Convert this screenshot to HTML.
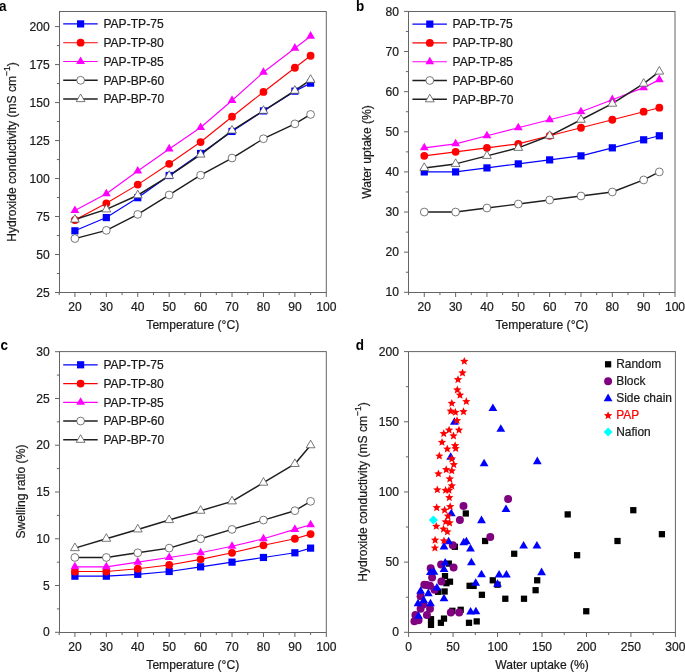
<!DOCTYPE html>
<html><head><meta charset="utf-8"><style>
html,body{margin:0;padding:0;background:#fff;width:685px;height:672px;overflow:hidden;position:relative}
text{font-family:"Liberation Sans", sans-serif;stroke:#1a1a1a;stroke-width:0.22px}
text.red{stroke:#ff0000}
text.lbl{stroke:none}
</style></head><body>
<svg width="685" height="672" viewBox="0 0 685 672" style="position:absolute;left:0;top:0;will-change:transform">
<g font-family='"Liberation Sans", sans-serif' font-size="12.1" fill="#1a1a1a" stroke-width="0">
<text transform="translate(-1 10.6) scale(1 1.1)" font-size="13.5" font-weight="bold" fill="#000" class="lbl">a</text>
<text transform="translate(356.1 10.6) scale(1 1.1)" font-size="13.5" font-weight="bold" fill="#000" class="lbl">b</text>
<text transform="translate(0.4 350.3) scale(1 1.1)" font-size="13.5" font-weight="bold" fill="#000" class="lbl">c</text>
<text transform="translate(355.7 350.3) scale(1 1.1)" font-size="13.5" font-weight="bold" fill="#000" class="lbl">d</text>
<rect x="59.5" y="11.5" width="266.8" height="281" fill="none" stroke="#646464" stroke-width="1.0"/>
<path d="M74.91 292.5v4.5M106.34 292.5v4.5M137.76 292.5v4.5M169.18 292.5v4.5M200.61 292.5v4.5M232.03 292.5v4.5M263.45 292.5v4.5M294.88 292.5v4.5M326.3 292.5v4.5M59.2 292.5v2.6M90.62 292.5v2.6M122.05 292.5v2.6M153.47 292.5v2.6M184.89 292.5v2.6M216.32 292.5v2.6M247.74 292.5v2.6M279.16 292.5v2.6M310.59 292.5v2.6M59.5 292.5h-4.5M59.5 254.51h-4.5M59.5 216.53h-4.5M59.5 178.54h-4.5M59.5 140.55h-4.5M59.5 102.57h-4.5M59.5 64.58h-4.5M59.5 26.59h-4.5M59.5 273.51h-2.6M59.5 235.52h-2.6M59.5 197.53h-2.6M59.5 159.55h-2.6M59.5 121.56h-2.6M59.5 83.57h-2.6M59.5 45.59h-2.6" stroke="#646464" stroke-width="1.0" fill="none"/>
<text transform="translate(74.91 311.2) scale(1.0 1.09)" text-anchor="middle">20</text>
<text transform="translate(106.34 311.2) scale(1.0 1.09)" text-anchor="middle">30</text>
<text transform="translate(137.76 311.2) scale(1.0 1.09)" text-anchor="middle">40</text>
<text transform="translate(169.18 311.2) scale(1.0 1.09)" text-anchor="middle">50</text>
<text transform="translate(200.61 311.2) scale(1.0 1.09)" text-anchor="middle">60</text>
<text transform="translate(232.03 311.2) scale(1.0 1.09)" text-anchor="middle">70</text>
<text transform="translate(263.45 311.2) scale(1.0 1.09)" text-anchor="middle">80</text>
<text transform="translate(294.88 311.2) scale(1.0 1.09)" text-anchor="middle">90</text>
<text transform="translate(326.3 311.2) scale(1.0 1.09)" text-anchor="middle">100</text>
<text transform="translate(49.6 296.6) scale(1.0 1.09)" text-anchor="end">25</text>
<text transform="translate(49.6 258.61) scale(1.0 1.09)" text-anchor="end">50</text>
<text transform="translate(49.6 220.63) scale(1.0 1.09)" text-anchor="end">75</text>
<text transform="translate(49.6 182.64) scale(1.0 1.09)" text-anchor="end">100</text>
<text transform="translate(49.6 144.65) scale(1.0 1.09)" text-anchor="end">125</text>
<text transform="translate(49.6 106.67) scale(1.0 1.09)" text-anchor="end">150</text>
<text transform="translate(49.6 68.68) scale(1.0 1.09)" text-anchor="end">175</text>
<text transform="translate(49.6 30.69) scale(1.0 1.09)" text-anchor="end">200</text>
<polyline points="74.91,230.81 106.34,217.59 137.76,197.69 169.18,175.5 200.61,153.47 232.03,131.44 263.45,110.92 294.88,91.17 310.59,83.12" fill="none" stroke="#0000ff" stroke-width="1.15" stroke-linejoin="round"/>
<polyline points="74.91,220.02 106.34,203.31 137.76,184.62 169.18,163.8 200.61,142.07 232.03,116.7 263.45,91.93 294.88,67.77 310.59,55.77" fill="none" stroke="#ff0000" stroke-width="1.15" stroke-linejoin="round"/>
<polyline points="74.91,210.45 106.34,193.74 137.76,170.94 169.18,148.91 200.61,127.49 232.03,100.44 263.45,72.33 294.88,48.17 310.59,36.17" fill="none" stroke="#ff00ff" stroke-width="1.15" stroke-linejoin="round"/>
<polyline points="74.91,238.56 106.34,230.35 137.76,214.4 169.18,194.95 200.61,175.2 232.03,158.03 263.45,138.73 294.88,123.84 310.59,114.42" fill="none" stroke="#1e1e1e" stroke-width="1.4" stroke-linejoin="round"/>
<polyline points="74.91,219.57 106.34,209.39 137.76,195.25 169.18,175.81 200.61,154.53 232.03,130.53 263.45,110.77 294.88,90.72 310.59,79.78" fill="none" stroke="#1e1e1e" stroke-width="1.5" stroke-linejoin="round"/>
<rect x="71.31" y="227.21" width="7.2" height="7.2" fill="#0000ff"/>
<rect x="102.74" y="213.99" width="7.2" height="7.2" fill="#0000ff"/>
<rect x="134.16" y="194.09" width="7.2" height="7.2" fill="#0000ff"/>
<rect x="165.58" y="171.9" width="7.2" height="7.2" fill="#0000ff"/>
<rect x="197.01" y="149.87" width="7.2" height="7.2" fill="#0000ff"/>
<rect x="228.43" y="127.84" width="7.2" height="7.2" fill="#0000ff"/>
<rect x="259.85" y="107.32" width="7.2" height="7.2" fill="#0000ff"/>
<rect x="291.28" y="87.57" width="7.2" height="7.2" fill="#0000ff"/>
<rect x="306.99" y="79.52" width="7.2" height="7.2" fill="#0000ff"/>
<circle cx="74.91" cy="220.02" r="3.9" fill="#ff0000"/>
<circle cx="106.34" cy="203.31" r="3.9" fill="#ff0000"/>
<circle cx="137.76" cy="184.62" r="3.9" fill="#ff0000"/>
<circle cx="169.18" cy="163.8" r="3.9" fill="#ff0000"/>
<circle cx="200.61" cy="142.07" r="3.9" fill="#ff0000"/>
<circle cx="232.03" cy="116.7" r="3.9" fill="#ff0000"/>
<circle cx="263.45" cy="91.93" r="3.9" fill="#ff0000"/>
<circle cx="294.88" cy="67.77" r="3.9" fill="#ff0000"/>
<circle cx="310.59" cy="55.77" r="3.9" fill="#ff0000"/>
<polygon points="74.91,205.38 79.31,212.98 70.51,212.98" fill="#ff00ff"/>
<polygon points="106.34,188.67 110.74,196.27 101.94,196.27" fill="#ff00ff"/>
<polygon points="137.76,165.88 142.16,173.48 133.36,173.48" fill="#ff00ff"/>
<polygon points="169.18,143.84 173.58,151.44 164.78,151.44" fill="#ff00ff"/>
<polygon points="200.61,122.42 205.01,130.02 196.21,130.02" fill="#ff00ff"/>
<polygon points="232.03,95.37 236.43,102.97 227.63,102.97" fill="#ff00ff"/>
<polygon points="263.45,67.26 267.85,74.86 259.05,74.86" fill="#ff00ff"/>
<polygon points="294.88,43.1 299.28,50.7 290.48,50.7" fill="#ff00ff"/>
<polygon points="310.59,31.1 314.99,38.7 306.19,38.7" fill="#ff00ff"/>
<circle cx="74.91" cy="238.56" r="3.9" fill="#ffffff" stroke="#555555" stroke-width="0.8"/>
<circle cx="106.34" cy="230.35" r="3.9" fill="#ffffff" stroke="#555555" stroke-width="0.8"/>
<circle cx="137.76" cy="214.4" r="3.9" fill="#ffffff" stroke="#555555" stroke-width="0.8"/>
<circle cx="169.18" cy="194.95" r="3.9" fill="#ffffff" stroke="#555555" stroke-width="0.8"/>
<circle cx="200.61" cy="175.2" r="3.9" fill="#ffffff" stroke="#555555" stroke-width="0.8"/>
<circle cx="232.03" cy="158.03" r="3.9" fill="#ffffff" stroke="#555555" stroke-width="0.8"/>
<circle cx="263.45" cy="138.73" r="3.9" fill="#ffffff" stroke="#555555" stroke-width="0.8"/>
<circle cx="294.88" cy="123.84" r="3.9" fill="#ffffff" stroke="#555555" stroke-width="0.8"/>
<circle cx="310.59" cy="114.42" r="3.9" fill="#ffffff" stroke="#555555" stroke-width="0.8"/>
<polygon points="74.91,214.5 79.31,222.1 70.51,222.1" fill="#ffffff" stroke="#555555" stroke-width="0.8" stroke-linejoin="miter"/>
<polygon points="106.34,204.32 110.74,211.92 101.94,211.92" fill="#ffffff" stroke="#555555" stroke-width="0.8" stroke-linejoin="miter"/>
<polygon points="137.76,190.19 142.16,197.79 133.36,197.79" fill="#ffffff" stroke="#555555" stroke-width="0.8" stroke-linejoin="miter"/>
<polygon points="169.18,170.74 173.58,178.34 164.78,178.34" fill="#ffffff" stroke="#555555" stroke-width="0.8" stroke-linejoin="miter"/>
<polygon points="200.61,149.47 205.01,157.07 196.21,157.07" fill="#ffffff" stroke="#555555" stroke-width="0.8" stroke-linejoin="miter"/>
<polygon points="232.03,125.46 236.43,133.06 227.63,133.06" fill="#ffffff" stroke="#555555" stroke-width="0.8" stroke-linejoin="miter"/>
<polygon points="263.45,105.71 267.85,113.31 259.05,113.31" fill="#ffffff" stroke="#555555" stroke-width="0.8" stroke-linejoin="miter"/>
<polygon points="294.88,85.65 299.28,93.25 290.48,93.25" fill="#ffffff" stroke="#555555" stroke-width="0.8" stroke-linejoin="miter"/>
<polygon points="310.59,74.71 314.99,82.31 306.19,82.31" fill="#ffffff" stroke="#555555" stroke-width="0.8" stroke-linejoin="miter"/>
<path d="M63.2 23.9h34.5" stroke="#0000ff" stroke-width="1.15"/>
<rect x="77" y="20.3" width="7.2" height="7.2" fill="#0000ff"/>
<text transform="translate(103.4 28.2) scale(1.0 1.09)">PAP-TP-75</text>
<path d="M63.2 42.7h34.5" stroke="#ff0000" stroke-width="1.15"/>
<circle cx="80.6" cy="42.7" r="3.9" fill="#ff0000"/>
<text transform="translate(103.4 47) scale(1.0 1.09)">PAP-TP-80</text>
<path d="M63.2 61.5h34.5" stroke="#ff00ff" stroke-width="1.15"/>
<polygon points="80.6,56.43 85,64.03 76.2,64.03" fill="#ff00ff"/>
<text transform="translate(103.4 65.8) scale(1.0 1.09)">PAP-TP-85</text>
<path d="M63.2 80.3h34.5" stroke="#1e1e1e" stroke-width="1.4"/>
<circle cx="80.6" cy="80.3" r="3.9" fill="#ffffff" stroke="#555555" stroke-width="0.8"/>
<text transform="translate(103.4 84.6) scale(1.0 1.09)">PAP-BP-60</text>
<path d="M63.2 99.1h34.5" stroke="#1e1e1e" stroke-width="1.5"/>
<polygon points="80.6,94.03 85,101.63 76.2,101.63" fill="#ffffff" stroke="#555555" stroke-width="0.8" stroke-linejoin="miter"/>
<text transform="translate(103.4 103.4) scale(1.0 1.09)">PAP-BP-70</text>
<text transform="translate(192.75 328.9) scale(1.0 1.09)" text-anchor="middle">Temperature (°C)</text>
<text transform="translate(15.6 152) rotate(-90) scale(1.0 1.09)" text-anchor="middle">Hydroxide conductivity (mS cm<tspan font-size="8.5" dy="-5.5">−1</tspan><tspan dy="5.5">)</tspan></text>
<rect x="408.5" y="11.5" width="266.5" height="281" fill="none" stroke="#646464" stroke-width="1.0"/>
<path d="M424.27 292.5v4.5M455.61 292.5v4.5M486.95 292.5v4.5M518.29 292.5v4.5M549.64 292.5v4.5M580.98 292.5v4.5M612.32 292.5v4.5M643.66 292.5v4.5M675 292.5v4.5M408.6 292.5v2.6M439.94 292.5v2.6M471.28 292.5v2.6M502.62 292.5v2.6M533.96 292.5v2.6M565.31 292.5v2.6M596.65 292.5v2.6M627.99 292.5v2.6M659.33 292.5v2.6M408.5 292.3h-4.5M408.5 252.17h-4.5M408.5 212.04h-4.5M408.5 171.91h-4.5M408.5 131.79h-4.5M408.5 91.66h-4.5M408.5 51.53h-4.5M408.5 11.4h-4.5M408.5 272.24h-2.6M408.5 232.11h-2.6M408.5 191.98h-2.6M408.5 151.85h-2.6M408.5 111.72h-2.6M408.5 71.59h-2.6M408.5 31.46h-2.6" stroke="#646464" stroke-width="1.0" fill="none"/>
<text transform="translate(424.27 311.3) scale(1.0 1.09)" text-anchor="middle">20</text>
<text transform="translate(455.61 311.3) scale(1.0 1.09)" text-anchor="middle">30</text>
<text transform="translate(486.95 311.3) scale(1.0 1.09)" text-anchor="middle">40</text>
<text transform="translate(518.29 311.3) scale(1.0 1.09)" text-anchor="middle">50</text>
<text transform="translate(549.64 311.3) scale(1.0 1.09)" text-anchor="middle">60</text>
<text transform="translate(580.98 311.3) scale(1.0 1.09)" text-anchor="middle">70</text>
<text transform="translate(612.32 311.3) scale(1.0 1.09)" text-anchor="middle">80</text>
<text transform="translate(643.66 311.3) scale(1.0 1.09)" text-anchor="middle">90</text>
<text transform="translate(675 311.3) scale(1.0 1.09)" text-anchor="middle">100</text>
<text transform="translate(399 296.4) scale(1.0 1.09)" text-anchor="end">10</text>
<text transform="translate(399 256.27) scale(1.0 1.09)" text-anchor="end">20</text>
<text transform="translate(399 216.14) scale(1.0 1.09)" text-anchor="end">30</text>
<text transform="translate(399 176.01) scale(1.0 1.09)" text-anchor="end">40</text>
<text transform="translate(399 135.89) scale(1.0 1.09)" text-anchor="end">50</text>
<text transform="translate(399 95.76) scale(1.0 1.09)" text-anchor="end">60</text>
<text transform="translate(399 55.63) scale(1.0 1.09)" text-anchor="end">70</text>
<text transform="translate(399 15.5) scale(1.0 1.09)" text-anchor="end">80</text>
<polyline points="424.27,171.91 455.61,171.91 486.95,167.9 518.29,163.89 549.64,159.88 580.98,155.86 612.32,147.84 643.66,139.81 659.33,135.8" fill="none" stroke="#0000ff" stroke-width="1.15" stroke-linejoin="round"/>
<polyline points="424.27,155.86 455.61,151.85 486.95,147.84 518.29,143.82 549.64,135.8 580.98,127.77 612.32,119.75 643.66,111.72 659.33,107.71" fill="none" stroke="#ff0000" stroke-width="1.15" stroke-linejoin="round"/>
<polyline points="424.27,147.84 455.61,143.82 486.95,135.8 518.29,127.77 549.64,119.75 580.98,111.72 612.32,99.68 643.66,87.64 659.33,79.62" fill="none" stroke="#ff00ff" stroke-width="1.15" stroke-linejoin="round"/>
<polyline points="424.27,212.04 455.61,212.04 486.95,208.03 518.29,204.02 549.64,200 580.98,195.99 612.32,191.98 643.66,179.94 659.33,171.91" fill="none" stroke="#1e1e1e" stroke-width="1.4" stroke-linejoin="round"/>
<polyline points="424.27,167.9 455.61,163.89 486.95,155.86 518.29,147.84 549.64,135.8 580.98,119.75 612.32,103.7 643.66,83.63 659.33,71.59" fill="none" stroke="#1e1e1e" stroke-width="1.5" stroke-linejoin="round"/>
<rect x="420.67" y="168.31" width="7.2" height="7.2" fill="#0000ff"/>
<rect x="452.01" y="168.31" width="7.2" height="7.2" fill="#0000ff"/>
<rect x="483.35" y="164.3" width="7.2" height="7.2" fill="#0000ff"/>
<rect x="514.69" y="160.29" width="7.2" height="7.2" fill="#0000ff"/>
<rect x="546.04" y="156.28" width="7.2" height="7.2" fill="#0000ff"/>
<rect x="577.38" y="152.26" width="7.2" height="7.2" fill="#0000ff"/>
<rect x="608.72" y="144.24" width="7.2" height="7.2" fill="#0000ff"/>
<rect x="640.06" y="136.21" width="7.2" height="7.2" fill="#0000ff"/>
<rect x="655.73" y="132.2" width="7.2" height="7.2" fill="#0000ff"/>
<circle cx="424.27" cy="155.86" r="3.9" fill="#ff0000"/>
<circle cx="455.61" cy="151.85" r="3.9" fill="#ff0000"/>
<circle cx="486.95" cy="147.84" r="3.9" fill="#ff0000"/>
<circle cx="518.29" cy="143.82" r="3.9" fill="#ff0000"/>
<circle cx="549.64" cy="135.8" r="3.9" fill="#ff0000"/>
<circle cx="580.98" cy="127.77" r="3.9" fill="#ff0000"/>
<circle cx="612.32" cy="119.75" r="3.9" fill="#ff0000"/>
<circle cx="643.66" cy="111.72" r="3.9" fill="#ff0000"/>
<circle cx="659.33" cy="107.71" r="3.9" fill="#ff0000"/>
<polygon points="424.27,142.77 428.67,150.37 419.87,150.37" fill="#ff00ff"/>
<polygon points="455.61,138.76 460.01,146.36 451.21,146.36" fill="#ff00ff"/>
<polygon points="486.95,130.73 491.35,138.33 482.55,138.33" fill="#ff00ff"/>
<polygon points="518.29,122.71 522.69,130.31 513.89,130.31" fill="#ff00ff"/>
<polygon points="549.64,114.68 554.04,122.28 545.24,122.28" fill="#ff00ff"/>
<polygon points="580.98,106.65 585.38,114.25 576.58,114.25" fill="#ff00ff"/>
<polygon points="612.32,94.62 616.72,102.22 607.92,102.22" fill="#ff00ff"/>
<polygon points="643.66,82.58 648.06,90.18 639.26,90.18" fill="#ff00ff"/>
<polygon points="659.33,74.55 663.73,82.15 654.93,82.15" fill="#ff00ff"/>
<circle cx="424.27" cy="212.04" r="3.9" fill="#ffffff" stroke="#555555" stroke-width="0.8"/>
<circle cx="455.61" cy="212.04" r="3.9" fill="#ffffff" stroke="#555555" stroke-width="0.8"/>
<circle cx="486.95" cy="208.03" r="3.9" fill="#ffffff" stroke="#555555" stroke-width="0.8"/>
<circle cx="518.29" cy="204.02" r="3.9" fill="#ffffff" stroke="#555555" stroke-width="0.8"/>
<circle cx="549.64" cy="200" r="3.9" fill="#ffffff" stroke="#555555" stroke-width="0.8"/>
<circle cx="580.98" cy="195.99" r="3.9" fill="#ffffff" stroke="#555555" stroke-width="0.8"/>
<circle cx="612.32" cy="191.98" r="3.9" fill="#ffffff" stroke="#555555" stroke-width="0.8"/>
<circle cx="643.66" cy="179.94" r="3.9" fill="#ffffff" stroke="#555555" stroke-width="0.8"/>
<circle cx="659.33" cy="171.91" r="3.9" fill="#ffffff" stroke="#555555" stroke-width="0.8"/>
<polygon points="424.27,162.83 428.67,170.43 419.87,170.43" fill="#ffffff" stroke="#555555" stroke-width="0.8" stroke-linejoin="miter"/>
<polygon points="455.61,158.82 460.01,166.42 451.21,166.42" fill="#ffffff" stroke="#555555" stroke-width="0.8" stroke-linejoin="miter"/>
<polygon points="486.95,150.8 491.35,158.4 482.55,158.4" fill="#ffffff" stroke="#555555" stroke-width="0.8" stroke-linejoin="miter"/>
<polygon points="518.29,142.77 522.69,150.37 513.89,150.37" fill="#ffffff" stroke="#555555" stroke-width="0.8" stroke-linejoin="miter"/>
<polygon points="549.64,130.73 554.04,138.33 545.24,138.33" fill="#ffffff" stroke="#555555" stroke-width="0.8" stroke-linejoin="miter"/>
<polygon points="580.98,114.68 585.38,122.28 576.58,122.28" fill="#ffffff" stroke="#555555" stroke-width="0.8" stroke-linejoin="miter"/>
<polygon points="612.32,98.63 616.72,106.23 607.92,106.23" fill="#ffffff" stroke="#555555" stroke-width="0.8" stroke-linejoin="miter"/>
<polygon points="643.66,78.56 648.06,86.16 639.26,86.16" fill="#ffffff" stroke="#555555" stroke-width="0.8" stroke-linejoin="miter"/>
<polygon points="659.33,66.53 663.73,74.13 654.93,74.13" fill="#ffffff" stroke="#555555" stroke-width="0.8" stroke-linejoin="miter"/>
<path d="M412.4 24.1h34.5" stroke="#0000ff" stroke-width="1.15"/>
<rect x="426.2" y="20.5" width="7.2" height="7.2" fill="#0000ff"/>
<text transform="translate(452.6 28.4) scale(1.0 1.09)">PAP-TP-75</text>
<path d="M412.4 42.9h34.5" stroke="#ff0000" stroke-width="1.15"/>
<circle cx="429.8" cy="42.9" r="3.9" fill="#ff0000"/>
<text transform="translate(452.6 47.2) scale(1.0 1.09)">PAP-TP-80</text>
<path d="M412.4 61.7h34.5" stroke="#ff00ff" stroke-width="1.15"/>
<polygon points="429.8,56.63 434.2,64.23 425.4,64.23" fill="#ff00ff"/>
<text transform="translate(452.6 66) scale(1.0 1.09)">PAP-TP-85</text>
<path d="M412.4 80.5h34.5" stroke="#1e1e1e" stroke-width="1.4"/>
<circle cx="429.8" cy="80.5" r="3.9" fill="#ffffff" stroke="#555555" stroke-width="0.8"/>
<text transform="translate(452.6 84.8) scale(1.0 1.09)">PAP-BP-60</text>
<path d="M412.4 99.3h34.5" stroke="#1e1e1e" stroke-width="1.5"/>
<polygon points="429.8,94.23 434.2,101.83 425.4,101.83" fill="#ffffff" stroke="#555555" stroke-width="0.8" stroke-linejoin="miter"/>
<text transform="translate(452.6 103.6) scale(1.0 1.09)">PAP-BP-70</text>
<text transform="translate(541.8 328.9) scale(1.0 1.09)" text-anchor="middle">Temperature (°C)</text>
<text transform="translate(370.7 152) rotate(-90) scale(1.0 1.09)" text-anchor="middle">Water uptake (%)</text>
<rect x="59.5" y="351.6" width="266.8" height="280.9" fill="none" stroke="#646464" stroke-width="1.0"/>
<path d="M74.91 632.5v4.5M106.34 632.5v4.5M137.76 632.5v4.5M169.18 632.5v4.5M200.61 632.5v4.5M232.03 632.5v4.5M263.45 632.5v4.5M294.88 632.5v4.5M326.3 632.5v4.5M59.2 632.5v2.6M90.62 632.5v2.6M122.05 632.5v2.6M153.47 632.5v2.6M184.89 632.5v2.6M216.32 632.5v2.6M247.74 632.5v2.6M279.16 632.5v2.6M310.59 632.5v2.6M59.5 632.3h-4.5M59.5 585.53h-4.5M59.5 538.77h-4.5M59.5 492h-4.5M59.5 445.23h-4.5M59.5 398.47h-4.5M59.5 351.7h-4.5M59.5 608.92h-2.6M59.5 562.15h-2.6M59.5 515.38h-2.6M59.5 468.62h-2.6M59.5 421.85h-2.6M59.5 375.08h-2.6" stroke="#646464" stroke-width="1.0" fill="none"/>
<text transform="translate(74.91 651) scale(1.0 1.09)" text-anchor="middle">20</text>
<text transform="translate(106.34 651) scale(1.0 1.09)" text-anchor="middle">30</text>
<text transform="translate(137.76 651) scale(1.0 1.09)" text-anchor="middle">40</text>
<text transform="translate(169.18 651) scale(1.0 1.09)" text-anchor="middle">50</text>
<text transform="translate(200.61 651) scale(1.0 1.09)" text-anchor="middle">60</text>
<text transform="translate(232.03 651) scale(1.0 1.09)" text-anchor="middle">70</text>
<text transform="translate(263.45 651) scale(1.0 1.09)" text-anchor="middle">80</text>
<text transform="translate(294.88 651) scale(1.0 1.09)" text-anchor="middle">90</text>
<text transform="translate(326.3 651) scale(1.0 1.09)" text-anchor="middle">100</text>
<text transform="translate(49.6 636.4) scale(1.0 1.09)" text-anchor="end">0</text>
<text transform="translate(49.6 589.63) scale(1.0 1.09)" text-anchor="end">5</text>
<text transform="translate(49.6 542.87) scale(1.0 1.09)" text-anchor="end">10</text>
<text transform="translate(49.6 496.1) scale(1.0 1.09)" text-anchor="end">15</text>
<text transform="translate(49.6 449.33) scale(1.0 1.09)" text-anchor="end">20</text>
<text transform="translate(49.6 402.57) scale(1.0 1.09)" text-anchor="end">25</text>
<text transform="translate(49.6 355.8) scale(1.0 1.09)" text-anchor="end">30</text>
<polyline points="74.91,576.18 106.34,576.18 137.76,574.31 169.18,571.5 200.61,566.83 232.03,562.15 263.45,557.47 294.88,552.8 310.59,548.12" fill="none" stroke="#0000ff" stroke-width="1.15" stroke-linejoin="round"/>
<polyline points="74.91,571.5 106.34,571.5 137.76,568.7 169.18,564.96 200.61,559.34 232.03,552.8 263.45,545.31 294.88,538.77 310.59,534.09" fill="none" stroke="#ff0000" stroke-width="1.15" stroke-linejoin="round"/>
<polyline points="74.91,566.83 106.34,566.83 137.76,562.15 169.18,557.47 200.61,552.8 232.03,546.25 263.45,538.77 294.88,529.41 310.59,524.74" fill="none" stroke="#ff00ff" stroke-width="1.15" stroke-linejoin="round"/>
<polyline points="74.91,557.47 106.34,557.47 137.76,552.8 169.18,548.12 200.61,538.77 232.03,529.41 263.45,520.06 294.88,510.71 310.59,501.35" fill="none" stroke="#1e1e1e" stroke-width="1.4" stroke-linejoin="round"/>
<polyline points="74.91,548.12 106.34,538.77 137.76,529.41 169.18,520.06 200.61,510.71 232.03,501.35 263.45,482.65 294.88,463.94 310.59,445.23" fill="none" stroke="#1e1e1e" stroke-width="1.5" stroke-linejoin="round"/>
<rect x="71.31" y="572.58" width="7.2" height="7.2" fill="#0000ff"/>
<rect x="102.74" y="572.58" width="7.2" height="7.2" fill="#0000ff"/>
<rect x="134.16" y="570.71" width="7.2" height="7.2" fill="#0000ff"/>
<rect x="165.58" y="567.9" width="7.2" height="7.2" fill="#0000ff"/>
<rect x="197.01" y="563.23" width="7.2" height="7.2" fill="#0000ff"/>
<rect x="228.43" y="558.55" width="7.2" height="7.2" fill="#0000ff"/>
<rect x="259.85" y="553.87" width="7.2" height="7.2" fill="#0000ff"/>
<rect x="291.28" y="549.2" width="7.2" height="7.2" fill="#0000ff"/>
<rect x="306.99" y="544.52" width="7.2" height="7.2" fill="#0000ff"/>
<circle cx="74.91" cy="571.5" r="3.9" fill="#ff0000"/>
<circle cx="106.34" cy="571.5" r="3.9" fill="#ff0000"/>
<circle cx="137.76" cy="568.7" r="3.9" fill="#ff0000"/>
<circle cx="169.18" cy="564.96" r="3.9" fill="#ff0000"/>
<circle cx="200.61" cy="559.34" r="3.9" fill="#ff0000"/>
<circle cx="232.03" cy="552.8" r="3.9" fill="#ff0000"/>
<circle cx="263.45" cy="545.31" r="3.9" fill="#ff0000"/>
<circle cx="294.88" cy="538.77" r="3.9" fill="#ff0000"/>
<circle cx="310.59" cy="534.09" r="3.9" fill="#ff0000"/>
<polygon points="74.91,561.76 79.31,569.36 70.51,569.36" fill="#ff00ff"/>
<polygon points="106.34,561.76 110.74,569.36 101.94,569.36" fill="#ff00ff"/>
<polygon points="137.76,557.08 142.16,564.68 133.36,564.68" fill="#ff00ff"/>
<polygon points="169.18,552.41 173.58,560.01 164.78,560.01" fill="#ff00ff"/>
<polygon points="200.61,547.73 205.01,555.33 196.21,555.33" fill="#ff00ff"/>
<polygon points="232.03,541.18 236.43,548.78 227.63,548.78" fill="#ff00ff"/>
<polygon points="263.45,533.7 267.85,541.3 259.05,541.3" fill="#ff00ff"/>
<polygon points="294.88,524.35 299.28,531.95 290.48,531.95" fill="#ff00ff"/>
<polygon points="310.59,519.67 314.99,527.27 306.19,527.27" fill="#ff00ff"/>
<circle cx="74.91" cy="557.47" r="3.9" fill="#ffffff" stroke="#555555" stroke-width="0.8"/>
<circle cx="106.34" cy="557.47" r="3.9" fill="#ffffff" stroke="#555555" stroke-width="0.8"/>
<circle cx="137.76" cy="552.8" r="3.9" fill="#ffffff" stroke="#555555" stroke-width="0.8"/>
<circle cx="169.18" cy="548.12" r="3.9" fill="#ffffff" stroke="#555555" stroke-width="0.8"/>
<circle cx="200.61" cy="538.77" r="3.9" fill="#ffffff" stroke="#555555" stroke-width="0.8"/>
<circle cx="232.03" cy="529.41" r="3.9" fill="#ffffff" stroke="#555555" stroke-width="0.8"/>
<circle cx="263.45" cy="520.06" r="3.9" fill="#ffffff" stroke="#555555" stroke-width="0.8"/>
<circle cx="294.88" cy="510.71" r="3.9" fill="#ffffff" stroke="#555555" stroke-width="0.8"/>
<circle cx="310.59" cy="501.35" r="3.9" fill="#ffffff" stroke="#555555" stroke-width="0.8"/>
<polygon points="74.91,543.05 79.31,550.65 70.51,550.65" fill="#ffffff" stroke="#555555" stroke-width="0.8" stroke-linejoin="miter"/>
<polygon points="106.34,533.7 110.74,541.3 101.94,541.3" fill="#ffffff" stroke="#555555" stroke-width="0.8" stroke-linejoin="miter"/>
<polygon points="137.76,524.35 142.16,531.95 133.36,531.95" fill="#ffffff" stroke="#555555" stroke-width="0.8" stroke-linejoin="miter"/>
<polygon points="169.18,514.99 173.58,522.59 164.78,522.59" fill="#ffffff" stroke="#555555" stroke-width="0.8" stroke-linejoin="miter"/>
<polygon points="200.61,505.64 205.01,513.24 196.21,513.24" fill="#ffffff" stroke="#555555" stroke-width="0.8" stroke-linejoin="miter"/>
<polygon points="232.03,496.29 236.43,503.89 227.63,503.89" fill="#ffffff" stroke="#555555" stroke-width="0.8" stroke-linejoin="miter"/>
<polygon points="263.45,477.58 267.85,485.18 259.05,485.18" fill="#ffffff" stroke="#555555" stroke-width="0.8" stroke-linejoin="miter"/>
<polygon points="294.88,458.87 299.28,466.47 290.48,466.47" fill="#ffffff" stroke="#555555" stroke-width="0.8" stroke-linejoin="miter"/>
<polygon points="310.59,440.17 314.99,447.77 306.19,447.77" fill="#ffffff" stroke="#555555" stroke-width="0.8" stroke-linejoin="miter"/>
<path d="M63.2 364.8h34.5" stroke="#0000ff" stroke-width="1.15"/>
<rect x="77" y="361.2" width="7.2" height="7.2" fill="#0000ff"/>
<text transform="translate(103.4 369.1) scale(1.0 1.09)">PAP-TP-75</text>
<path d="M63.2 383.55h34.5" stroke="#ff0000" stroke-width="1.15"/>
<circle cx="80.6" cy="383.55" r="3.9" fill="#ff0000"/>
<text transform="translate(103.4 387.85) scale(1.0 1.09)">PAP-TP-80</text>
<path d="M63.2 402.3h34.5" stroke="#ff00ff" stroke-width="1.15"/>
<polygon points="80.6,397.23 85,404.83 76.2,404.83" fill="#ff00ff"/>
<text transform="translate(103.4 406.6) scale(1.0 1.09)">PAP-TP-85</text>
<path d="M63.2 421.05h34.5" stroke="#1e1e1e" stroke-width="1.4"/>
<circle cx="80.6" cy="421.05" r="3.9" fill="#ffffff" stroke="#555555" stroke-width="0.8"/>
<text transform="translate(103.4 425.35) scale(1.0 1.09)">PAP-BP-60</text>
<path d="M63.2 439.8h34.5" stroke="#1e1e1e" stroke-width="1.5"/>
<polygon points="80.6,434.73 85,442.33 76.2,442.33" fill="#ffffff" stroke="#555555" stroke-width="0.8" stroke-linejoin="miter"/>
<text transform="translate(103.4 444.1) scale(1.0 1.09)">PAP-BP-70</text>
<text transform="translate(192.75 669) scale(1.0 1.09)" text-anchor="middle">Temperature (°C)</text>
<text transform="translate(24.6 491.6) rotate(-90) scale(1.0 1.09)" text-anchor="middle">Swelling ratio (%)</text>
<rect x="408.5" y="351.6" width="266.9" height="280.9" fill="none" stroke="#646464" stroke-width="1.0"/>
<path d="M408.6 632.5v4.5M453.07 632.5v4.5M497.53 632.5v4.5M542 632.5v4.5M586.47 632.5v4.5M630.93 632.5v4.5M675.4 632.5v4.5M430.83 632.5v2.6M475.3 632.5v2.6M519.77 632.5v2.6M564.23 632.5v2.6M608.7 632.5v2.6M653.17 632.5v2.6M408.5 632.3h-4.5M408.5 562.12h-4.5M408.5 491.95h-4.5M408.5 421.77h-4.5M408.5 351.6h-4.5M408.5 597.21h-2.6M408.5 527.04h-2.6M408.5 456.86h-2.6M408.5 386.69h-2.6" stroke="#646464" stroke-width="1.0" fill="none"/>
<text transform="translate(408.6 651.3) scale(1.0 1.09)" text-anchor="middle">0</text>
<text transform="translate(453.07 651.3) scale(1.0 1.09)" text-anchor="middle">50</text>
<text transform="translate(497.53 651.3) scale(1.0 1.09)" text-anchor="middle">100</text>
<text transform="translate(542 651.3) scale(1.0 1.09)" text-anchor="middle">150</text>
<text transform="translate(586.47 651.3) scale(1.0 1.09)" text-anchor="middle">200</text>
<text transform="translate(630.93 651.3) scale(1.0 1.09)" text-anchor="middle">250</text>
<text transform="translate(675.4 651.3) scale(1.0 1.09)" text-anchor="middle">300</text>
<text transform="translate(399 636.4) scale(1.0 1.09)" text-anchor="end">0</text>
<text transform="translate(399 566.23) scale(1.0 1.09)" text-anchor="end">50</text>
<text transform="translate(399 496.05) scale(1.0 1.09)" text-anchor="end">100</text>
<text transform="translate(399 425.88) scale(1.0 1.09)" text-anchor="end">150</text>
<text transform="translate(399 355.7) scale(1.0 1.09)" text-anchor="end">200</text>
<text transform="translate(542 669.4) scale(1.0 1.09)" text-anchor="middle">Water uptake (%)</text>
<text transform="translate(367.4 492) rotate(-90) scale(1.0 1.09)" text-anchor="middle">Hydroxide conductivity (mS cm<tspan font-size="8.5" dy="-5.5">−1</tspan><tspan dy="5.5">)</tspan></text>
<rect x="462.67" y="510.37" width="6.26" height="6.26" fill="#000000"/>
<rect x="451.77" y="543.67" width="6.26" height="6.26" fill="#000000"/>
<rect x="481.97" y="537.87" width="6.26" height="6.26" fill="#000000"/>
<rect x="445.67" y="560.47" width="6.26" height="6.26" fill="#000000"/>
<rect x="441.87" y="572.97" width="6.26" height="6.26" fill="#000000"/>
<rect x="446.87" y="578.57" width="6.26" height="6.26" fill="#000000"/>
<rect x="443.27" y="580.07" width="6.26" height="6.26" fill="#000000"/>
<rect x="434.97" y="588.67" width="6.26" height="6.26" fill="#000000"/>
<rect x="441.47" y="588.37" width="6.26" height="6.26" fill="#000000"/>
<rect x="457.57" y="606.67" width="6.26" height="6.26" fill="#000000"/>
<rect x="449.27" y="607.67" width="6.26" height="6.26" fill="#000000"/>
<rect x="427.87" y="616.07" width="6.26" height="6.26" fill="#000000"/>
<rect x="440.87" y="615.47" width="6.26" height="6.26" fill="#000000"/>
<rect x="437.77" y="619.67" width="6.26" height="6.26" fill="#000000"/>
<rect x="427.87" y="621.77" width="6.26" height="6.26" fill="#000000"/>
<rect x="465.87" y="619.67" width="6.26" height="6.26" fill="#000000"/>
<rect x="466.47" y="582.67" width="6.26" height="6.26" fill="#000000"/>
<rect x="470.47" y="582.77" width="6.26" height="6.26" fill="#000000"/>
<rect x="511.07" y="550.62" width="6.26" height="6.26" fill="#000000"/>
<rect x="489.67" y="577.17" width="6.26" height="6.26" fill="#000000"/>
<rect x="494.37" y="581.57" width="6.26" height="6.26" fill="#000000"/>
<rect x="534.07" y="577.17" width="6.26" height="6.26" fill="#000000"/>
<rect x="532.47" y="587.07" width="6.26" height="6.26" fill="#000000"/>
<rect x="478.77" y="591.67" width="6.26" height="6.26" fill="#000000"/>
<rect x="502.17" y="595.62" width="6.26" height="6.26" fill="#000000"/>
<rect x="520.87" y="595.62" width="6.26" height="6.26" fill="#000000"/>
<rect x="473.57" y="618.27" width="6.26" height="6.26" fill="#000000"/>
<rect x="564.57" y="511.27" width="6.26" height="6.26" fill="#000000"/>
<rect x="630.17" y="507.07" width="6.26" height="6.26" fill="#000000"/>
<rect x="658.77" y="531.07" width="6.26" height="6.26" fill="#000000"/>
<rect x="614.37" y="537.87" width="6.26" height="6.26" fill="#000000"/>
<rect x="573.97" y="552.07" width="6.26" height="6.26" fill="#000000"/>
<rect x="583.12" y="608.12" width="6.26" height="6.26" fill="#000000"/>
<circle cx="463.5" cy="506" r="3.98" fill="#800080"/>
<circle cx="459.9" cy="520.1" r="3.98" fill="#800080"/>
<circle cx="452.8" cy="545.2" r="3.98" fill="#800080"/>
<circle cx="490.3" cy="537" r="3.98" fill="#800080"/>
<circle cx="508.1" cy="499" r="3.98" fill="#800080"/>
<circle cx="441.1" cy="564.5" r="3.98" fill="#800080"/>
<circle cx="453.6" cy="567.4" r="3.98" fill="#800080"/>
<circle cx="430.7" cy="568.3" r="3.98" fill="#800080"/>
<circle cx="432.1" cy="577.6" r="3.98" fill="#800080"/>
<circle cx="441.4" cy="581.4" r="3.98" fill="#800080"/>
<circle cx="426.8" cy="585" r="3.98" fill="#800080"/>
<circle cx="434.5" cy="589.8" r="3.98" fill="#800080"/>
<circle cx="424.3" cy="584.8" r="3.98" fill="#800080"/>
<circle cx="430" cy="585.8" r="3.98" fill="#800080"/>
<circle cx="420.6" cy="596.25" r="3.98" fill="#800080"/>
<circle cx="423.2" cy="604.6" r="3.98" fill="#800080"/>
<circle cx="420.6" cy="608.75" r="3.98" fill="#800080"/>
<circle cx="430" cy="608.75" r="3.98" fill="#800080"/>
<circle cx="415.4" cy="615" r="3.98" fill="#800080"/>
<circle cx="426.9" cy="615" r="3.98" fill="#800080"/>
<circle cx="414.4" cy="621.25" r="3.98" fill="#800080"/>
<circle cx="418.5" cy="620.2" r="3.98" fill="#800080"/>
<circle cx="450.8" cy="612.4" r="3.98" fill="#800080"/>
<circle cx="459.2" cy="612.4" r="3.98" fill="#800080"/>
<polygon points="492.9,403.43 497.3,411.03 488.5,411.03" fill="#0000ff"/>
<polygon points="500.8,424.23 505.2,431.83 496.4,431.83" fill="#0000ff"/>
<polygon points="454.4,417.13 458.8,424.73 450,424.73" fill="#0000ff"/>
<polygon points="450.7,452.13 455.1,459.73 446.3,459.73" fill="#0000ff"/>
<polygon points="484.1,458.63 488.5,466.23 479.7,466.23" fill="#0000ff"/>
<polygon points="537.3,456.53 541.7,464.13 532.9,464.13" fill="#0000ff"/>
<polygon points="506,504.43 510.4,512.03 501.6,512.03" fill="#0000ff"/>
<polygon points="451.3,508.63 455.7,516.23 446.9,516.23" fill="#0000ff"/>
<polygon points="481.5,515.53 485.9,523.13 477.1,523.13" fill="#0000ff"/>
<polygon points="448.6,536.63 453,544.23 444.2,544.23" fill="#0000ff"/>
<polygon points="444,541.83 448.4,549.43 439.6,549.43" fill="#0000ff"/>
<polygon points="463.75,537.73 468.15,545.33 459.35,545.33" fill="#0000ff"/>
<polygon points="466.4,536.63 470.8,544.23 462,544.23" fill="#0000ff"/>
<polygon points="470.5,543.93 474.9,551.53 466.1,551.53" fill="#0000ff"/>
<polygon points="445.2,557.93 449.6,565.53 440.8,565.53" fill="#0000ff"/>
<polygon points="444,564.43 448.4,572.03 439.6,572.03" fill="#0000ff"/>
<polygon points="471.4,557.63 475.8,565.23 467,565.23" fill="#0000ff"/>
<polygon points="481.5,569.63 485.9,577.23 477.1,577.23" fill="#0000ff"/>
<polygon points="475.7,578.13 480.1,585.73 471.3,585.73" fill="#0000ff"/>
<polygon points="499.1,569.88 503.5,577.48 494.7,577.48" fill="#0000ff"/>
<polygon points="506.4,569.88 510.8,577.48 502,577.48" fill="#0000ff"/>
<polygon points="497.5,579.23 501.9,586.83 493.1,586.83" fill="#0000ff"/>
<polygon points="523.6,540.93 528,548.53 519.2,548.53" fill="#0000ff"/>
<polygon points="536.9,540.93 541.3,548.53 532.5,548.53" fill="#0000ff"/>
<polygon points="541.6,567.53 546,575.13 537.2,575.13" fill="#0000ff"/>
<polygon points="430.4,567.43 434.8,575.03 426,575.03" fill="#0000ff"/>
<polygon points="433.9,567.13 438.3,574.73 429.5,574.73" fill="#0000ff"/>
<polygon points="420.6,586.13 425,593.73 416.2,593.73" fill="#0000ff"/>
<polygon points="428.3,588.53 432.7,596.13 423.9,596.13" fill="#0000ff"/>
<polygon points="436.9,582.93 441.3,590.53 432.5,590.53" fill="#0000ff"/>
<polygon points="444,593.63 448.4,601.23 439.6,601.23" fill="#0000ff"/>
<polygon points="423.75,595.53 428.15,603.13 419.35,603.13" fill="#0000ff"/>
<polygon points="418,598.63 422.4,606.23 413.6,606.23" fill="#0000ff"/>
<polygon points="430.5,598.63 434.9,606.23 426.1,606.23" fill="#0000ff"/>
<polygon points="418.5,611.13 422.9,618.73 414.1,618.73" fill="#0000ff"/>
<polygon points="470.6,606.93 475,614.53 466.2,614.53" fill="#0000ff"/>
<polygon points="475.9,606.63 480.3,614.23 471.5,614.23" fill="#0000ff"/>
<polygon points="464.3,356.9 465.46,359.7 468.48,359.94 466.18,361.91 466.89,364.86 464.3,363.28 461.71,364.86 462.42,361.91 460.12,359.94 463.14,359.7" fill="#ff0000"/>
<polygon points="462.5,368.5 463.66,371.3 466.68,371.54 464.38,373.51 465.09,376.46 462.5,374.88 459.91,376.46 460.62,373.51 458.32,371.54 461.34,371.3" fill="#ff0000"/>
<polygon points="458,375.2 459.16,378 462.18,378.24 459.88,380.21 460.59,383.16 458,381.58 455.41,383.16 456.12,380.21 453.82,378.24 456.84,378" fill="#ff0000"/>
<polygon points="457.3,385.5 458.46,388.3 461.48,388.54 459.18,390.51 459.89,393.46 457.3,391.88 454.71,393.46 455.42,390.51 453.12,388.54 456.14,388.3" fill="#ff0000"/>
<polygon points="460,390.8 461.16,393.6 464.18,393.84 461.88,395.81 462.59,398.76 460,397.18 457.41,398.76 458.12,395.81 455.82,393.84 458.84,393.6" fill="#ff0000"/>
<polygon points="466.3,397.1 467.46,399.9 470.48,400.14 468.18,402.11 468.89,405.06 466.3,403.48 463.71,405.06 464.42,402.11 462.12,400.14 465.14,399.9" fill="#ff0000"/>
<polygon points="451.8,398.9 452.96,401.7 455.98,401.94 453.68,403.91 454.39,406.86 451.8,405.28 449.21,406.86 449.92,403.91 447.62,401.94 450.64,401.7" fill="#ff0000"/>
<polygon points="450.7,406.8 451.86,409.6 454.88,409.84 452.58,411.81 453.29,414.76 450.7,413.18 448.11,414.76 448.82,411.81 446.52,409.84 449.54,409.6" fill="#ff0000"/>
<polygon points="455.4,407.9 456.56,410.7 459.58,410.94 457.28,412.91 457.99,415.86 455.4,414.28 452.81,415.86 453.52,412.91 451.22,410.94 454.24,410.7" fill="#ff0000"/>
<polygon points="463.5,407.3 464.66,410.1 467.68,410.34 465.38,412.31 466.09,415.26 463.5,413.68 460.91,415.26 461.62,412.31 459.32,410.34 462.34,410.1" fill="#ff0000"/>
<polygon points="457,416.2 458.16,419 461.18,419.24 458.88,421.21 459.59,424.16 457,422.58 454.41,424.16 455.12,421.21 452.82,419.24 455.84,419" fill="#ff0000"/>
<polygon points="449.1,425.7 450.26,428.5 453.28,428.74 450.98,430.71 451.69,433.66 449.1,432.08 446.51,433.66 447.22,430.71 444.92,428.74 447.94,428.5" fill="#ff0000"/>
<polygon points="459,425.7 460.16,428.5 463.18,428.74 460.88,430.71 461.59,433.66 459,432.08 456.41,433.66 457.12,430.71 454.82,428.74 457.84,428.5" fill="#ff0000"/>
<polygon points="443.75,429.2 444.91,432 447.93,432.24 445.63,434.21 446.34,437.16 443.75,435.58 441.16,437.16 441.87,434.21 439.57,432.24 442.59,432" fill="#ff0000"/>
<polygon points="453.5,431.5 454.66,434.3 457.68,434.54 455.38,436.51 456.09,439.46 453.5,437.88 450.91,439.46 451.62,436.51 449.32,434.54 452.34,434.3" fill="#ff0000"/>
<polygon points="442,437.9 443.16,440.7 446.18,440.94 443.88,442.91 444.59,445.86 442,444.28 439.41,445.86 440.12,442.91 437.82,440.94 440.84,440.7" fill="#ff0000"/>
<polygon points="455.1,441.3 456.26,444.1 459.28,444.34 456.98,446.31 457.69,449.26 455.1,447.68 452.51,449.26 453.22,446.31 450.92,444.34 453.94,444.1" fill="#ff0000"/>
<polygon points="447.3,444.6 448.46,447.4 451.48,447.64 449.18,449.61 449.89,452.56 447.3,450.98 444.71,452.56 445.42,449.61 443.12,447.64 446.14,447.4" fill="#ff0000"/>
<polygon points="455.7,444.1 456.86,446.9 459.88,447.14 457.58,449.11 458.29,452.06 455.7,450.48 453.11,452.06 453.82,449.11 451.52,447.14 454.54,446.9" fill="#ff0000"/>
<polygon points="439.3,451.6 440.46,454.4 443.48,454.64 441.18,456.61 441.89,459.56 439.3,457.98 436.71,459.56 437.42,456.61 435.12,454.64 438.14,454.4" fill="#ff0000"/>
<polygon points="451.8,454.5 452.96,457.3 455.98,457.54 453.68,459.51 454.39,462.46 451.8,460.88 449.21,462.46 449.92,459.51 447.62,457.54 450.64,457.3" fill="#ff0000"/>
<polygon points="453.8,460.2 454.96,463 457.98,463.24 455.68,465.21 456.39,468.16 453.8,466.58 451.21,468.16 451.92,465.21 449.62,463.24 452.64,463" fill="#ff0000"/>
<polygon points="446.2,465.3 447.36,468.1 450.38,468.34 448.08,470.31 448.79,473.26 446.2,471.68 443.61,473.26 444.32,470.31 442.02,468.34 445.04,468.1" fill="#ff0000"/>
<polygon points="451.8,466.4 452.96,469.2 455.98,469.44 453.68,471.41 454.39,474.36 451.8,472.78 449.21,474.36 449.92,471.41 447.62,469.44 450.64,469.2" fill="#ff0000"/>
<polygon points="438.4,469.4 439.56,472.2 442.58,472.44 440.28,474.41 440.99,477.36 438.4,475.78 435.81,477.36 436.52,474.41 434.22,472.44 437.24,472.2" fill="#ff0000"/>
<polygon points="449.8,474.5 450.96,477.3 453.98,477.54 451.68,479.51 452.39,482.46 449.8,480.88 447.21,482.46 447.92,479.51 445.62,477.54 448.64,477.3" fill="#ff0000"/>
<polygon points="451.8,481.5 452.96,484.3 455.98,484.54 453.68,486.51 454.39,489.46 451.8,487.88 449.21,489.46 449.92,486.51 447.62,484.54 450.64,484.3" fill="#ff0000"/>
<polygon points="437.3,485.4 438.46,488.2 441.48,488.44 439.18,490.41 439.89,493.36 437.3,491.78 434.71,493.36 435.42,490.41 433.12,488.44 436.14,488.2" fill="#ff0000"/>
<polygon points="445.6,485.9 446.76,488.7 449.78,488.94 447.48,490.91 448.19,493.86 445.6,492.28 443.01,493.86 443.72,490.91 441.42,488.94 444.44,488.7" fill="#ff0000"/>
<polygon points="449,485.9 450.16,488.7 453.18,488.94 450.88,490.91 451.59,493.86 449,492.28 446.41,493.86 447.12,490.91 444.82,488.94 447.84,488.7" fill="#ff0000"/>
<polygon points="449.3,493.2 450.46,496 453.48,496.24 451.18,498.21 451.89,501.16 449.3,499.58 446.71,501.16 447.42,498.21 445.12,496.24 448.14,496" fill="#ff0000"/>
<polygon points="436.7,503.3 437.86,506.1 440.88,506.34 438.58,508.31 439.29,511.26 436.7,509.68 434.11,511.26 434.82,508.31 432.52,506.34 435.54,506.1" fill="#ff0000"/>
<polygon points="450.2,502.2 451.36,505 454.38,505.24 452.08,507.21 452.79,510.16 450.2,508.58 447.61,510.16 448.32,507.21 446.02,505.24 449.04,505" fill="#ff0000"/>
<polygon points="444.6,505.7 445.76,508.5 448.78,508.74 446.48,510.71 447.19,513.66 444.6,512.08 442.01,513.66 442.72,510.71 440.42,508.74 443.44,508.5" fill="#ff0000"/>
<polygon points="448,511.8 449.16,514.6 452.18,514.84 449.88,516.81 450.59,519.76 448,518.18 445.41,519.76 446.12,516.81 443.82,514.84 446.84,514.6" fill="#ff0000"/>
<polygon points="445.7,517.4 446.86,520.2 449.88,520.44 447.58,522.41 448.29,525.36 445.7,523.78 443.11,525.36 443.82,522.41 441.52,520.44 444.54,520.2" fill="#ff0000"/>
<polygon points="449.6,518.5 450.76,521.3 453.78,521.54 451.48,523.51 452.19,526.46 449.6,524.88 447.01,526.46 447.72,523.51 445.42,521.54 448.44,521.3" fill="#ff0000"/>
<polygon points="436.25,521.9 437.41,524.7 440.43,524.94 438.13,526.91 438.84,529.86 436.25,528.28 433.66,529.86 434.37,526.91 432.07,524.94 435.09,524.7" fill="#ff0000"/>
<polygon points="443.5,524.7 444.66,527.5 447.68,527.74 445.38,529.71 446.09,532.66 443.5,531.08 440.91,532.66 441.62,529.71 439.32,527.74 442.34,527.5" fill="#ff0000"/>
<polygon points="447.4,527.45 448.56,530.25 451.58,530.49 449.28,532.46 449.99,535.41 447.4,533.83 444.81,535.41 445.52,532.46 443.22,530.49 446.24,530.25" fill="#ff0000"/>
<polygon points="435.1,535.8 436.26,538.6 439.28,538.84 436.98,540.81 437.69,543.76 435.1,542.18 432.51,543.76 433.22,540.81 430.92,538.84 433.94,538.6" fill="#ff0000"/>
<polygon points="444,536.4 445.16,539.2 448.18,539.44 445.88,541.41 446.59,544.36 444,542.78 441.41,544.36 442.12,541.41 439.82,539.44 442.84,539.2" fill="#ff0000"/>
<polygon points="434.9,543.6 436.06,546.4 439.08,546.64 436.78,548.61 437.49,551.56 434.9,549.98 432.31,551.56 433.02,548.61 430.72,546.64 433.74,546.4" fill="#ff0000"/>
<polygon points="433.4,515.61 437.89,520.1 433.4,524.59 428.91,520.1" fill="#00ffff"/>
<rect x="604.97" y="361.17" width="6.26" height="6.26" fill="#000000"/>
<text transform="translate(616.2 368.1) scale(1.0 1.09)" font-size="11.95" fill="#1a1a1a">Random</text>
<circle cx="608.1" cy="381.2" r="3.98" fill="#800080"/>
<text transform="translate(616.2 385) scale(1.0 1.09)" font-size="11.95" fill="#1a1a1a">Block</text>
<polygon points="608.1,393.53 612.5,401.13 603.7,401.13" fill="#0000ff"/>
<text transform="translate(616.2 401.9) scale(1.0 1.09)" font-size="11.95" fill="#1a1a1a">Side chain</text>
<polygon points="608.1,411.2 609.26,414 612.28,414.24 609.98,416.21 610.69,419.16 608.1,417.58 605.51,419.16 606.22,416.21 603.92,414.24 606.94,414" fill="#ff0000"/>
<text transform="translate(616.2 418.8) scale(1.0 1.09)" font-size="11.95" fill="#ff0000" class="red">PAP</text>
<polygon points="608.1,427.41 612.59,431.9 608.1,436.39 603.61,431.9" fill="#00ffff"/>
<text transform="translate(616.2 435.7) scale(1.0 1.09)" font-size="11.95" fill="#1a1a1a">Nafion</text>
</g></svg>
</body></html>
